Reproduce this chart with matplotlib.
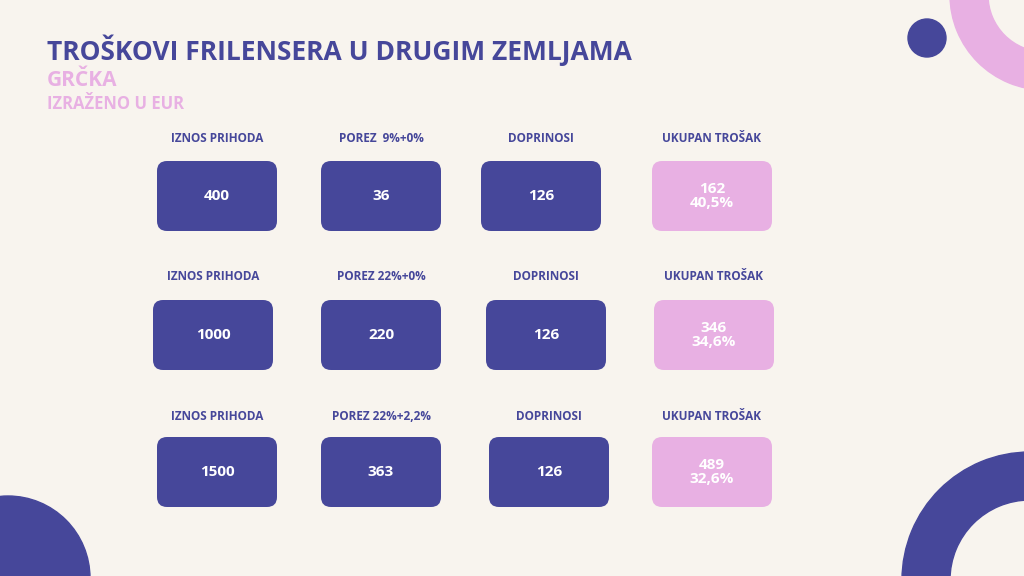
import matplotlib
matplotlib.use("Agg")
import matplotlib.pyplot as plt
from matplotlib.patches import FancyBboxPatch, Circle, Wedge

title = "TROŠKOVI FRILENSERA U DRUGIM ZEMLJAMA"
subtitle = "GRČKA"
unit = "IZRAŽENO U EUR"
headers = [
    ["IZNOS PRIHODA", "POREZ  9%+0%", "DOPRINOSI", "UKUPAN TROŠAK"],
    ["IZNOS PRIHODA", "POREZ 22%+0%", "DOPRINOSI", "UKUPAN TROŠAK"],
    ["IZNOS PRIHODA", "POREZ 22%+2,2%", "DOPRINOSI", "UKUPAN TROŠAK"],
]
income = [400, 1000, 1500]
tax = [36, 220, 363]
contrib = [126, 126, 126]
total = [162, 346, 489]
total_pct = ["40,5%", "34,6%", "32,6%"]

BG = "#F8F4EE"
BLUE = "#46479A"
PINK = "#E8B0E3"
plt.rcParams['font.family'] = ['Open Sans', 'DejaVu Sans']

fig = plt.figure(figsize=(10.24, 5.76), dpi=100, facecolor=BG)
ax = fig.add_axes([0, 0, 1, 1])
ax.set_xlim(0, 1024); ax.set_ylim(576, 0); ax.axis('off')
ax.set_facecolor(BG)

# decorations
ax.add_patch(Wedge((1045, -5), 95, 0, 360, width=38, color=PINK))
ax.add_patch(Circle((927, 38), 19, color=BLUE))
ax.add_patch(Circle((8, 578), 82, color=BLUE))
ax.add_patch(Wedge((1030, 580), 128, 0, 360, width=48, color=BLUE))

ax.text(47, 50, title, color=BLUE, fontsize=19, fontweight='bold', va='center', ha='left')
ax.text(47, 80, subtitle, color=PINK, fontsize=15, fontweight='bold', va='center', ha='left')
ax.text(47, 104, unit, color=PINK, fontsize=12, fontweight='bold', va='center', ha='left')

col_x = [[157, 321, 481, 652], [153, 321, 486, 654], [157, 321, 489, 652]]
head_y = [138, 277, 416]
box_y = [161, 300, 437]
W, H = 120, 70
for r in range(3):
    vals = [str(income[r]), str(tax[r]), str(contrib[r]), f"{total[r]}\n{total_pct[r]}"]
    for c in range(4):
        x = col_x[r][c]
        ax.text(x + W / 2, head_y[r], headers[r][c], color=BLUE, fontsize=8.5,
                fontweight='bold', ha='center', va='center')
        fc = PINK if c == 3 else BLUE
        ax.add_patch(FancyBboxPatch((x + 10, box_y[r] + 10), W - 20, H - 20,
                                    boxstyle="round,pad=10", fc=fc, ec='none'))
        ax.text(x + W / 2, box_y[r] + H / 2, vals[c], color='white', fontsize=11,
                fontweight='bold', ha='center', va='center', linespacing=1.0)

fig.savefig("out.png", dpi=100, facecolor=BG)
